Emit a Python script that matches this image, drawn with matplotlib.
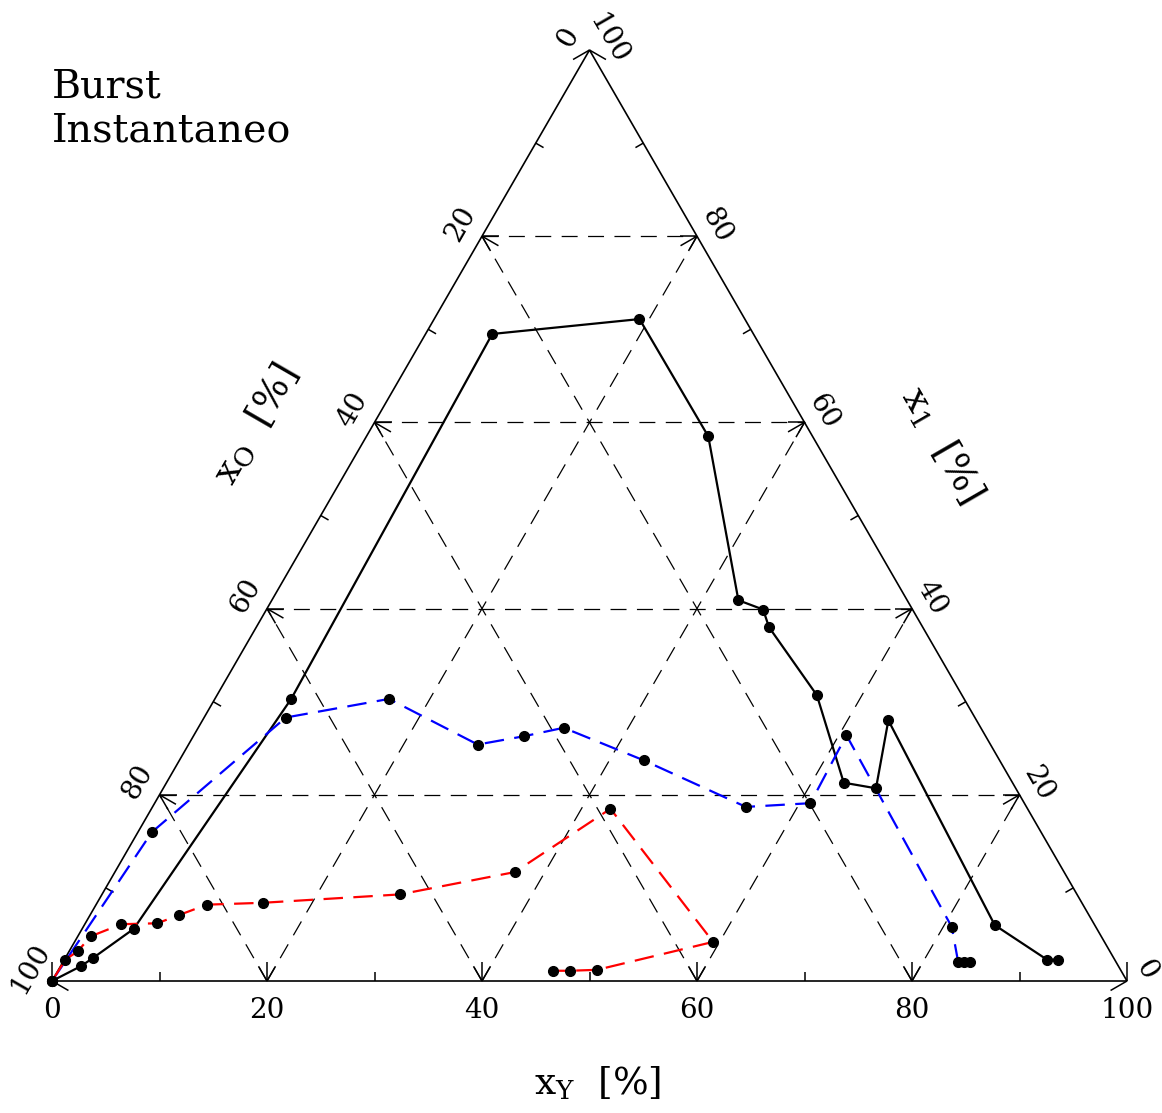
import numpy as np
import matplotlib
matplotlib.use("Agg")
import matplotlib.pyplot as plt

# composizioni in percentuale: xY (asse in basso) e x1 (asse a destra), xO = 100 - xY - x1
nero_xY = [0.0, 1.9, 2.6, 4.8, 7.1, 6.2, 19.1, 31.8, 43.4, 46.2, 47.7, 55.8, 63.0, 66.3, 63.8, 84.7, 91.4, 92.4]
nero_x1 = [0.0, 1.6, 2.5, 5.6, 30.3, 69.5, 71.1, 58.5, 40.9, 39.9, 38.0, 30.7, 21.3, 20.7, 28.0, 6.0, 2.3, 2.3]

blu_xY = [0.0, 1.3, 7.6, 16.2, 26.9, 30.8, 34.0, 43.2, 55.2, 61.0, 60.7, 80.8, 83.3, 83.8, 84.4]
blu_x1 = [0.0, 16.0, 28.3, 30.3, 25.4, 26.3, 27.2, 23.7, 18.7, 19.1, 26.4, 5.8, 2.0, 2.0, 2.0]

rosso_xY = [0.0, 0.1, 0.8, 1.2, 3.4, 6.7, 8.3, 10.3, 15.4, 27.7, 37.2, 42.7, 59.4, 50.1, 47.6, 46.1]
rosso_x1 = [0.0, 2.3, 3.2, 4.8, 6.1, 6.2, 7.1, 8.2, 8.4, 9.3, 11.7, 18.5, 4.2, 1.2, 1.1, 1.1]

tick_maggiori = [20, 40, 60, 80]
tick_minori = [10, 30, 50, 70, 90]

S3 = np.sqrt(3.0) / 2.0


def tern(xY, x1):
    xY = np.asarray(xY, dtype=float)
    x1 = np.asarray(x1, dtype=float)
    return xY + x1 / 2.0, x1 * S3


def ruota(v, ang):
    a = np.radians(ang)
    return np.array([v[0] * np.cos(a) - v[1] * np.sin(a), v[0] * np.sin(a) + v[1] * np.cos(a)])


plt.rcParams['font.family'] = ['DejaVu Serif']
plt.rcParams['mathtext.fontset'] = 'dejavuserif'
plt.rcParams['lines.scale_dashes'] = False

W, H = 1162, 1113
px = 10.75          # pixel per unita' percentuale
x0, y0 = 52, 981    # vertice xO=100 in pixel

fig = plt.figure(figsize=(W / 100.0, H / 100.0), dpi=100)
ax = fig.add_axes([0, 0, 1, 1])
ax.set_xlim(-x0 / px, (W - x0) / px)
ax.set_ylim(-(H - y0) / px, y0 / px)
ax.axis('off')


def P(xp, yp):
    # da pixel a coordinate del grafico
    return (xp - x0) / px, (y0 - yp) / px


# griglia tratteggiata
kg = dict(color='black', lw=0.9, dashes=(11.5, 7.5), zorder=1)
for v in tick_maggiori:
    # x1 = v costante
    a = tern(0, v); b = tern(100 - v, v)
    ax.plot([a[0], b[0]], [a[1], b[1]], **kg)
    # xO = v costante, dal lato sinistro al basso
    a = tern(100 - v, 0); b = tern(0, 100 - v)
    ax.plot([a[0], b[0]], [a[1], b[1]], **kg)
    # xY = v costante, dal basso al lato destro
    a = tern(v, 0); b = tern(v, 100 - v)
    ax.plot([a[0], b[0]], [a[1], b[1]], **kg)

# triangolo
tx, ty = tern([0, 100, 0, 0], [0, 0, 100, 0])
ax.plot(tx, ty, color='black', lw=1.2, zorder=3, solid_joinstyle='miter')

# tacche e frecce sui tre assi
L_shaft = 19 / px
L_barb = 17 / px
L_min = 9 / px
assi = {
    'basso': (lambda v: tern(v, 0), np.array([0.0, 1.0])),
    'sinistra': (lambda v: tern(0, 100 - v), np.array([S3, -0.5])),
    'destra': (lambda v: tern(100 - v, v), np.array([-S3, -0.5])),
}
kt = dict(color='black', lw=1.1, zorder=3, solid_capstyle='butt')
for nome, (pos, n) in assi.items():
    for v in tick_minori:
        p = np.array(pos(v), dtype=float)
        q = p + L_min * n
        ax.plot([p[0], q[0]], [p[1], q[1]], **kt)
    for v in tick_maggiori + [0, 100]:
        p = np.array(pos(v), dtype=float)
        q = p + L_shaft * n
        ax.plot([p[0], q[0]], [p[1], q[1]], **kt)
        if v in (0, 100):
            continue
        for s in (30, -30):
            r = p + L_barb * ruota(n, s)
            ax.plot([p[0], r[0]], [p[1], r[1]], **kt)

# etichette delle tacche
fs_tick = 20
off_s = 25 / px
off_d = 22 / px
for v in [0] + tick_maggiori + [100]:
    x, y = tern(v, 0)
    ax.text(x, y - 29 / px, str(v), ha='center', va='center', fontsize=fs_tick)
    x, y = tern(0, 100 - v)
    ax.text(x + off_s * np.cos(np.radians(150)), y + off_s * np.sin(np.radians(150)), str(v),
            ha='center', va='center', fontsize=fs_tick, rotation=60, rotation_mode='anchor')
    x, y = tern(100 - v, v)
    ax.text(x + off_d * np.cos(np.radians(30)), y + off_d * np.sin(np.radians(30)), str(v),
            ha='center', va='center', fontsize=fs_tick, rotation=-60, rotation_mode='anchor')

# titoli degli assi
fs_lab = 27
ax.text(*P(598, 1083), r'$\mathrm{x_Y}$  [%]', ha='center', va='center', fontsize=fs_lab)
ax.text(*P(256, 425), r'$\mathrm{x_O}$  [%]', ha='center', va='center', fontsize=fs_lab,
        rotation=60, rotation_mode='anchor')
ax.text(*P(942, 445), r'$\mathrm{x_1}$  [%]', ha='center', va='center', fontsize=fs_lab,
        rotation=-60, rotation_mode='anchor')

ax.text(*P(52, 97), 'Burst', ha='left', va='baseline', fontsize=28.5)
ax.text(*P(52, 142), 'Instantaneo', ha='left', va='baseline', fontsize=28.5)

# serie
kd = dict(lw=1.6, zorder=4)
x, y = tern(nero_xY, nero_x1)
ax.plot(x, y, color='black', ls='-', **kd)
ax.plot(x, y, 'o', color='black', ms=7, zorder=6)
x, y = tern(blu_xY, blu_x1)
ax.plot(x, y, color='blue', dashes=(14, 7.5), **kd)
ax.plot(x, y, 'o', color='black', ms=7, zorder=6)
x, y = tern(rosso_xY, rosso_x1)
ax.plot(x, y, color='red', dashes=(14, 7.5), **kd)
ax.plot(x, y, 'o', color='black', ms=7, zorder=6)

fig.savefig('out.png', dpi=100)
